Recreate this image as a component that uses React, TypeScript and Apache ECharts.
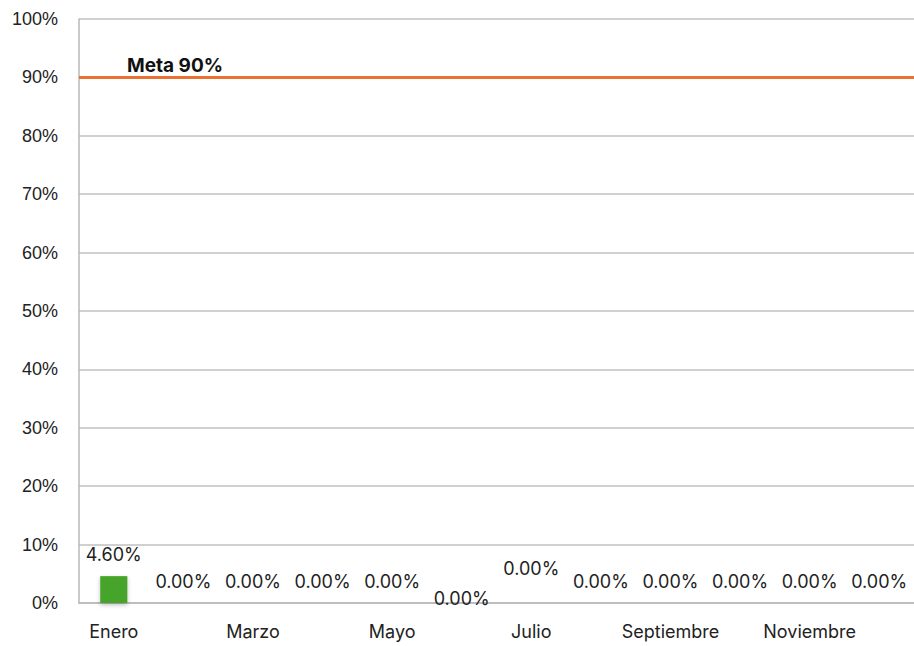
import React, { useEffect, useRef } from "react";
import * as echarts from "echarts";

const months = ["Enero", "Febrero", "Marzo", "Abril", "Mayo", "Junio", "Julio", "Agosto", "Septiembre", "Octubre", "Noviembre", "Diciembre"];
const values = [4.6, 0, 0, 0, 0, 0, 0, 0, 0, 0, 0, 0];
const goal = 90;
const goalLabel = "Meta 90%";
const yMin = 0;
const yMax = 100;
const yStep = 10;

// label vertical nudges (style only)
const labelShift: Record<number, number> = { 5: 17, 6: -13 };

export default function App() {
  const ref = useRef<HTMLDivElement>(null);
  useEffect(() => {
    if (!ref.current) return;
    const chart = echarts.init(ref.current, null, { renderer: "svg" });
    const data = values.map((v, i) =>
      labelShift[i] !== undefined ? { value: v, label: { offset: [0, labelShift[i]] } } : v
    );
    chart.setOption({
      animation: false,
      grid: { left: 79, right: 0, top: 19, bottom: 43, containLabel: false },
      xAxis: {
        type: "category",
        data: months,
        axisLine: { lineStyle: { color: "#b8b8b8", width: 1.5 } },
        axisTick: { show: false },
        axisLabel: { interval: 1, color: "#222", fontFamily: "Inter", fontSize: 18, margin: 19 },
      },
      yAxis: {
        type: "value",
        min: yMin,
        max: yMax,
        interval: yStep,
        axisLine: { show: true, lineStyle: { color: "#b8b8b8", width: 1.5 } },
        axisTick: { show: false },
        splitLine: { lineStyle: { color: "#c0c0c0", width: 1.5 } },
        axisLabel: { formatter: "{value}%", color: "#222", fontFamily: "Liberation Sans", fontSize: 18, margin: 21 },
      },
      series: [
        {
          type: "bar",
          data,
          barWidth: "39%",
          itemStyle: { color: "#47a42c", shadowColor: "rgba(0,0,0,0.25)", shadowBlur: 4, shadowOffsetY: 2 },
          label: {
            show: true,
            position: "top",
            distance: 13,
            formatter: (p: any) => Number(p.value).toFixed(2) + "%",
            color: "#222",
            fontFamily: "Inter",
            fontSize: 18,
          },
          markLine: {
            silent: true,
            symbol: "none",
            lineStyle: { color: "#e97132", width: 3, type: "solid" },
            label: {
              show: true,
              position: "insideStartTop",
              formatter: goalLabel,
              color: "#111",
              fontFamily: "Inter",
              fontWeight: "bold",
              fontSize: 19,
              distance: [48, 2],
            },
            data: [{ yAxis: goal }],
          },
        },
      ],
    });
    return () => chart.dispose();
  }, []);
  return <div ref={ref} style={{ position: "fixed", left: 0, top: 0, width: 914, height: 646, background: "#fff" }} />;
}
